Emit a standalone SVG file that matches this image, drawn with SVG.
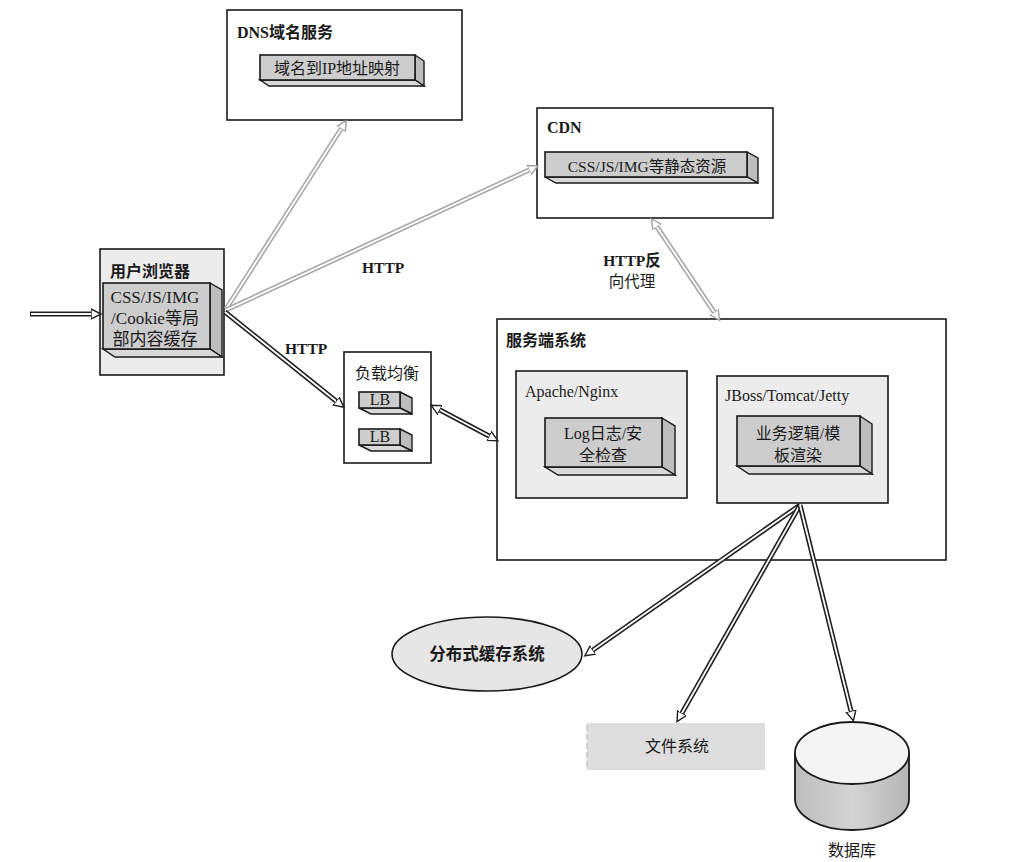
<svg xmlns="http://www.w3.org/2000/svg" width="1010" height="862" viewBox="0 0 1010 862">
<style>
  text { font-family: "Liberation Serif", "Noto Sans CJK SC", serif; fill: #1a1a1a; }
  .t { font-size: 16px; }
  .b { font-size: 16px; font-weight: bold; }
  .mid { text-anchor: middle; }
  .box { fill: #ffffff; stroke: #1a1a1a; stroke-width: 1.6; }
  .lbox { fill: #ececec; stroke: #1a1a1a; stroke-width: 1.6; }
  .front { fill: #cdcdcd; stroke: #1a1a1a; stroke-width: 1.6; }
  .side { fill: #bdbdbd; stroke: #1a1a1a; stroke-width: 1.4; }
  .bot { fill: #d9d9d9; stroke: #1a1a1a; stroke-width: 1.4; }
  .dk { fill: none; stroke: #1f1f1f; stroke-width: 5; }
  .gy { fill: none; stroke: #a8a8a8; stroke-width: 5; }
  .in { fill: none; stroke: #ffffff; stroke-width: 1.8; }
</style>
<defs>
  <marker id="ad" markerUnits="userSpaceOnUse" markerWidth="14" markerHeight="14" refX="0" refY="7" orient="auto-start-reverse" viewBox="0 0 14 14">
    <polygon points="0,2 10,7 0,12" fill="#ffffff" stroke="#1f1f1f" stroke-width="1.4"/>
  </marker>
  <marker id="ag" markerUnits="userSpaceOnUse" markerWidth="14" markerHeight="14" refX="0" refY="7" orient="auto-start-reverse" viewBox="0 0 14 14">
    <polygon points="0,2 10,7 0,12" fill="#ffffff" stroke="#a0a0a0" stroke-width="1.4"/>
  </marker>
  <linearGradient id="dbg" x1="0" x2="1" y1="0" y2="0">
    <stop offset="0" stop-color="#bdbdbd"/>
    <stop offset="0.5" stop-color="#d4d4d4"/>
    <stop offset="1" stop-color="#b5b5b5"/>
  </linearGradient>
</defs>

<!-- DNS -->
<g id="dns">
  <rect class="box" x="227" y="10" width="235" height="110"/>
  <text class="b" x="237" y="38">DNS域名服务</text>
  <polygon class="side" points="415,55 424,61 424,86 415,80"/>
  <polygon class="bot" points="260,80 415,80 424,86 269,86"/>
  <rect class="front" x="260" y="55" width="155" height="25"/>
  <text class="t mid" x="337" y="74">域名到IP地址映射</text>
</g>

<!-- CDN -->
<g id="cdn">
  <rect class="box" x="537" y="108" width="236" height="110"/>
  <text class="b" x="547" y="133">CDN</text>
  <polygon class="side" points="747,152 758,158 758,183 747,177"/>
  <polygon class="bot" points="545,177 747,177 758,183 556,183"/>
  <rect class="front" x="545" y="152" width="202" height="25"/>
  <text class="t mid" x="647" y="172" style="font-size:15.5px">CSS/JS/IMG等静态资源</text>
</g>

<!-- Browser -->
<g id="browser">
  <rect class="lbox" x="100" y="249" width="124" height="126"/>
  <text class="b" x="110" y="277">用户浏览器</text>
  <polygon class="side" points="210,283 222,290 222,357 210,349"/>
  <polygon class="bot" points="103,349 210,349 222,357 115,357"/>
  <rect class="front" x="103" y="283" width="107" height="66"/>
  <text class="t mid" x="155" y="303" style="font-size:17px">CSS/JS/IMG</text>
  <text class="t mid" x="155" y="324" style="font-size:17px">/Cookie等局</text>
  <text class="t mid" x="155" y="345" style="font-size:17px">部内容缓存</text>
</g>

<!-- Load balancer -->
<g id="lb">
  <rect class="box" x="344" y="352" width="87" height="111"/>
  <text class="t" x="355" y="379">负载均衡</text>
  <polygon class="side" points="400,392 412,398 412,414 400,408"/>
  <polygon class="bot" points="359,408 400,408 412,414 371,414"/>
  <rect class="front" x="359" y="392" width="41" height="16"/>
  <text class="t mid" x="380" y="405">LB</text>
  <polygon class="side" points="400,429 412,435 412,451 400,445"/>
  <polygon class="bot" points="359,445 400,445 412,451 371,451"/>
  <rect class="front" x="359" y="429" width="41" height="16"/>
  <text class="t mid" x="380" y="442">LB</text>
</g>

<!-- Server system -->
<g id="server">
  <rect class="box" x="497" y="319" width="449" height="241"/>
  <text class="b" x="506" y="346">服务端系统</text>
</g>

<g id="apache">
  <rect class="lbox" x="516" y="371" width="171" height="127"/>
  <text class="t" x="525" y="397">Apache/Nginx</text>
  <polygon class="side" points="662,418 675,426 675,475 662,467"/>
  <polygon class="bot" points="545,467 662,467 675,475 558,475"/>
  <rect class="front" x="545" y="418" width="117" height="49"/>
  <text class="t mid" x="603" y="439">Log日志/安</text>
  <text class="t mid" x="603" y="461">全检查</text>
</g>

<g id="jboss">
  <rect class="lbox" x="717" y="376" width="171" height="127"/>
  <text class="t" x="725" y="401">JBoss/Tomcat/Jetty</text>
  <polygon class="side" points="860,416 872,424 872,474 860,466"/>
  <polygon class="bot" points="737,466 860,466 872,474 749,474"/>
  <rect class="front" x="737" y="416" width="123" height="50"/>
  <text class="t mid" x="798" y="439">业务逻辑/模</text>
  <text class="t mid" x="798" y="461">板渲染</text>
</g>

<!-- Distributed cache -->
<g id="cache">
  <ellipse cx="487" cy="654" rx="95" ry="37" fill="#e6e6e6" stroke="#1a1a1a" stroke-width="1.6"/>
  <text class="t mid" x="487" y="660" style="font-size:16.5px;font-weight:600">分布式缓存系统</text>
</g>

<!-- File system -->
<g id="fs">
  <rect x="587" y="723" width="178" height="47" fill="#dedede"/>
  <line x1="587" y1="725" x2="587" y2="768" stroke="#cfcfcf" stroke-width="2" stroke-dasharray="6,3"/>
  <text class="t mid" x="677" y="752">文件系统</text>
</g>

<!-- Database -->
<g id="db">
  <path d="M795,753 L795,799 A57,31 0 0 0 909,799 L909,753" fill="url(#dbg)" stroke="#1a1a1a" stroke-width="1.8"/>
  <ellipse cx="852" cy="753" rx="57" ry="31" fill="#f4f4f4" stroke="#1a1a1a" stroke-width="1.8"/>
  <text class="t mid" x="852" y="856">数据库</text>
</g>

<!-- Connectors -->
<g id="connectors">
  <!-- input arrow -->
  <line class="dk" x1="30" y1="314" x2="91" y2="314"/>
  <line class="in" x1="31" y1="314" x2="91" y2="314" stroke-width="2.4" marker-end="url(#ad)"/>

  <!-- browser to DNS -->
  <line class="gy" x1="226" y1="309" x2="341" y2="129"/>
  <line class="in" x1="226" y1="309" x2="341" y2="129" marker-end="url(#ag)"/>
  <!-- browser to CDN -->
  <line class="gy" x1="226" y1="310" x2="529" y2="170"/>
  <line class="in" x1="226" y1="310" x2="529" y2="170" marker-end="url(#ag)"/>
  <!-- browser to LB -->
  <line class="dk" x1="225" y1="312" x2="336" y2="401"/>
  <line class="in" x1="225" y1="312" x2="336" y2="401" marker-end="url(#ad)"/>
  <!-- LB to server -->
  <line class="dk" x1="440" y1="410" x2="489" y2="436"/>
  <line class="in" x1="440" y1="410" x2="489" y2="436" marker-start="url(#ad)" marker-end="url(#ad)"/>
  <!-- CDN to server -->
  <line class="gy" x1="657" y1="227" x2="714" y2="312"/>
  <line class="in" x1="657" y1="227" x2="714" y2="312" marker-start="url(#ag)" marker-end="url(#ag)"/>
  <!-- JBoss to cache / fs / db -->
  <line class="dk" x1="800" y1="505" x2="593" y2="650"/>
  <line class="in" x1="800" y1="505" x2="593" y2="650" marker-end="url(#ad)"/>
  <line class="dk" x1="800" y1="505" x2="682" y2="713"/>
  <line class="in" x1="800" y1="505" x2="682" y2="713" marker-end="url(#ad)"/>
  <line class="dk" x1="800" y1="505" x2="851" y2="711"/>
  <line class="in" x1="800" y1="505" x2="851" y2="711" marker-end="url(#ad)"/>

  <text class="b" x="362" y="273" style="font-size:15.5px">HTTP</text>
  <text class="b" x="285" y="354" style="font-size:15.5px">HTTP</text>
  <text class="b mid" x="632" y="266" style="font-size:15.5px">HTTP反</text>
  <text class="t mid" x="632" y="287" style="font-size:15.5px">向代理</text>
</g>
</svg>
